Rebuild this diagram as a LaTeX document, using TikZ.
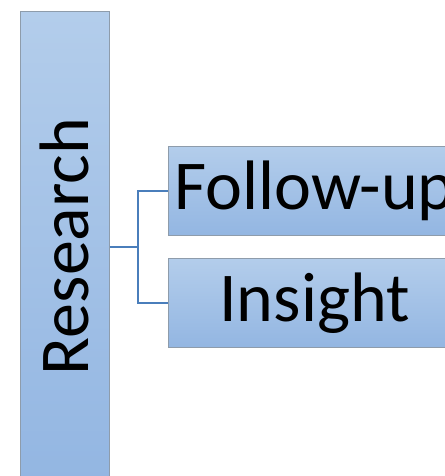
\documentclass[tikz,border=0pt]{standalone}
\usepackage{fontspec}
\setmainfont{Carlito}
\usetikzlibrary{positioning}
\usetikzlibrary{calc}

\definecolor{boxtop}{HTML}{B3CDEB}
\definecolor{boxbot}{HTML}{93B6E2}
\definecolor{boxline}{HTML}{8E9CAB}
\definecolor{linkblue}{HTML}{4A7EBB}

\begin{document}
\begin{tikzpicture}[x=1pt,y=-1pt,
	box/.style={draw=boxline,line width=0.9pt,top color=boxtop,bottom color=boxbot,inner sep=0pt,font=\fontsize{70}{84}\selectfont},
	link/.style={draw=linkblue,line width=1.3pt}]
	\useasboundingbox (0,0) rectangle (444,476);
	% tall box on the left
	\node [box,minimum width=89pt,minimum height=470pt,anchor=north west] (research) at (20,11) {\rotatebox{90}{Research}};
	% the two branches
	\node [box,minimum width=292pt,minimum height=89pt,anchor=north west] (followup) at (168,146) {Follow-up};
	\node [box,minimum width=292pt,minimum height=89pt,below=22pt of followup] (insight) {Insight};
	% connector
	\coordinate [left=30pt of followup.west] (forktop);
	\coordinate [left=30pt of insight.west] (forkbot);
	\coordinate (fork) at ($(forktop)!0.5!(forkbot)$);
	\draw [link] (followup.west) -- (forktop) -- (forkbot) -- (insight.west);
	\draw [link] (research.east |- fork) -- (fork);
\end{tikzpicture}
\end{document}
